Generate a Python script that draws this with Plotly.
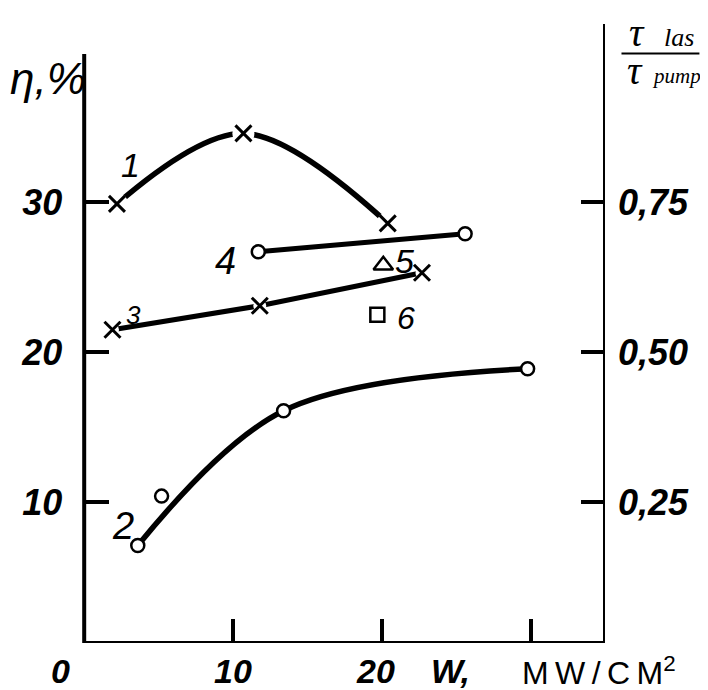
import plotly.graph_objects as go

# ---------------- data (W in MW/cm^2, eta in %) ----------------
s1_w = [2.2, 10.7, 20.4]
s1_eta = [29.9, 34.6, 28.6]

s2_curve_w = [3.6, 13.4, 29.8]
s2_curve_eta = [7.1, 16.1, 18.9]
s2_pts_w = [3.6, 5.2, 13.4, 29.8]
s2_pts_eta = [7.1, 10.4, 16.1, 18.9]

s3_w = [1.9, 11.8, 22.7]
s3_eta = [21.5, 23.1, 25.3]

s4_w = [11.7, 25.6]
s4_eta = [26.7, 27.9]

s5_w = [20.1]
s5_eta = [25.8]

s6_w = [19.7]
s6_eta = [22.5]

curve_names = ["1", "2", "3", "4", "5", "6"]
name_w = [3.1, 2.6, 3.3, 9.5, 21.5, 21.6]
name_eta = [32.5, 8.4, 22.5, 26.1, 26.1, 22.3]
name_sizes = [34, 38, 26, 38, 34, 32]

x_tick_vals = [10, 20, 30]
x_label_text = ["0", "10", "20"]
x_label_pos = [-1.6, 10, 19.6]

y_tick_vals = [10, 20, 30]
y_tick_text = ["10", "20", "30"]
y2_tick_vals = [0.25, 0.5, 0.75]
y2_tick_text = ["0,25", "0,50", "0,75"]

# ---------------- layout geometry ----------------
W_FIG, H_FIG = 700, 682
ML, MR, MT, MB = 39, 102.5, 12.5, 47
PW = W_FIG - ML - MR
PH = H_FIG - MT - MB
PAGE_OFF = 8  # default body margin of the page

XR = [-2.5, 35.0]
YR = [0.6, 42.1]
Y2R = [YR[0] / 40.0, YR[1] / 40.0]


def paper_xy(px, py):
    """convert page pixel position to paper coords (for text placement only)"""
    fx = px - PAGE_OFF
    fy = py - PAGE_OFF
    return (fx - ML) / PW, (H_FIG - MB - fy) / PH


FONT = "Liberation Sans, sans-serif"
SERIF = "Liberation Serif, serif"

fig = go.Figure()

# curve lines
fig.add_trace(go.Scatter(x=s1_w, y=s1_eta, mode="lines",
                         line=dict(color="black", width=5.5, shape="spline", smoothing=1.0),
                         hoverinfo="skip", showlegend=False))
fig.add_trace(go.Scatter(x=s2_curve_w, y=s2_curve_eta, mode="lines",
                         line=dict(color="black", width=5.5, shape="spline", smoothing=1.0),
                         hoverinfo="skip", showlegend=False))
fig.add_trace(go.Scatter(x=s3_w, y=s3_eta, mode="lines",
                         line=dict(color="black", width=5),
                         hoverinfo="skip", showlegend=False))
fig.add_trace(go.Scatter(x=s4_w, y=s4_eta, mode="lines",
                         line=dict(color="black", width=5),
                         hoverinfo="skip", showlegend=False))

# white halos around crosses (gaps in lines)
fig.add_trace(go.Scatter(x=s1_w, y=s1_eta, mode="markers",
                         marker=dict(symbol="circle", size=22, color="white"),
                         hoverinfo="skip", showlegend=False))
fig.add_trace(go.Scatter(x=s3_w, y=s3_eta, mode="markers",
                         marker=dict(symbol="circle", size=13, color="white"),
                         hoverinfo="skip", showlegend=False))

# markers
cross = dict(symbol="x-thin", size=16, color="black", line=dict(color="black", width=3))
fig.add_trace(go.Scatter(x=s1_w, y=s1_eta, mode="markers", marker=cross, showlegend=False))
fig.add_trace(go.Scatter(x=s3_w, y=s3_eta, mode="markers", marker=cross, showlegend=False))
circ = dict(symbol="circle", size=13, color="white", line=dict(color="black", width=2.5))
fig.add_trace(go.Scatter(x=s2_pts_w, y=s2_pts_eta, mode="markers", marker=circ, showlegend=False))
fig.add_trace(go.Scatter(x=s4_w, y=s4_eta, mode="markers", marker=circ, showlegend=False))
fig.add_trace(go.Scatter(x=s5_w, y=s5_eta, mode="markers",
                         marker=dict(symbol="triangle-up-open", size=17, color="black",
                                     line=dict(color="black", width=2.5)),
                         showlegend=False))
fig.add_trace(go.Scatter(x=s6_w, y=s6_eta, mode="markers",
                         marker=dict(symbol="square-open", size=14, color="black",
                                     line=dict(color="black", width=2.5)),
                         showlegend=False))

# invisible trace to activate yaxis2
fig.add_trace(go.Scatter(x=[None], y=[None], yaxis="y2", showlegend=False, hoverinfo="skip"))

# curve number labels
for t, xw, ye, fs in zip(curve_names, name_w, name_eta, name_sizes):
    fig.add_annotation(x=xw, y=ye, xref="x", yref="y", text=t, showarrow=False,
                       xanchor="center", yanchor="middle",
                       font=dict(family=FONT, size=fs, color="black", style="italic"))

# x-axis labels
for t, xp in zip(x_label_text, x_label_pos):
    fig.add_annotation(x=xp, y=0, xref="x", yref="paper", xanchor="center", yanchor="top",
                       yshift=-7, text=t, showarrow=False,
                       font=dict(family=FONT, size=34, color="black", style="italic", weight="bold"))
fig.add_annotation(x=24.6, y=0, xref="x", yref="paper", xanchor="center", yanchor="top",
                   yshift=-7, text="W,", showarrow=False,
                   font=dict(family=FONT, size=34, color="black", style="italic", weight="bold"))
fig.add_annotation(x=34.6, y=0, xref="x", yref="paper", xanchor="center", yanchor="top",
                   yshift=-6, text="M\u2009W\u2009/\u2009C\u2009M<sup>2</sup>", showarrow=False,
                   font=dict(family=FONT, size=32, color="black"))

# left axis title
hx, hy = paper_xy(48, 78)
fig.add_annotation(x=hx, y=hy, xref="paper", yref="paper", text="η,%", showarrow=False,
                   xanchor="center", yanchor="middle",
                   font=dict(family=FONT, size=44, color="black", style="italic"))

# right axis title (fraction): tau_las / tau_pump
for txt, (px, py), fs in [("τ", (638, 32), 40), ("las", (680, 37), 26),
                          ("τ", (636, 70), 40), ("pump", (677, 76), 21)]:
    ax_, ay_ = paper_xy(px, py)
    fig.add_annotation(x=ax_, y=ay_, xref="paper", yref="paper", text=txt, showarrow=False,
                       xanchor="center", yanchor="middle",
                       font=dict(family=SERIF, size=fs, color="black", style="italic"))
lx0, ly = paper_xy(622, 53)
lx1, _ = paper_xy(700, 53)
fig.add_shape(type="line", xref="paper", yref="paper", x0=lx0, x1=lx1, y0=ly, y1=ly,
              line=dict(color="black", width=2))

# axis frame (left, bottom, right)
fig.add_shape(type="path", xref="x", yref="y",
              path=f"M 0,39.9 L 0,{YR[0]} L 35,{YR[0]} L 35,41.9",
              line=dict(color="black", width=4))

ypos = (0 - XR[0]) / (XR[1] - XR[0])

tickfont = dict(family=FONT, size=36, color="black", style="italic", weight="bold")

fig.update_layout(
    width=W_FIG, height=H_FIG,
    margin=dict(l=ML, r=MR, t=MT, b=MB, autoexpand=False),
    paper_bgcolor="white", plot_bgcolor="white",
    showlegend=False,
    xaxis=dict(range=XR, showgrid=False, zeroline=False, showline=False, automargin=False,
               tickvals=x_tick_vals, ticks="inside", ticklen=24, tickwidth=3.5,
               tickcolor="black", showticklabels=False),
    yaxis=dict(range=YR, showgrid=False, zeroline=False, showline=False, automargin=False,
               anchor="free", position=ypos,
               tickvals=y_tick_vals, ticktext=y_tick_text,
               ticks="inside", ticklen=24, tickwidth=3.5, tickcolor="black",
               ticklabelstandoff=22, tickfont=tickfont),
    yaxis2=dict(range=Y2R, overlaying="y", side="right", anchor="x", automargin=False,
                showgrid=False, zeroline=False, showline=False,
                tickvals=y2_tick_vals, ticktext=y2_tick_text,
                ticks="inside", ticklen=24, tickwidth=3.5, tickcolor="black",
                ticklabelstandoff=12, tickfont=tickfont),
)

fig.write_html("out.html")
